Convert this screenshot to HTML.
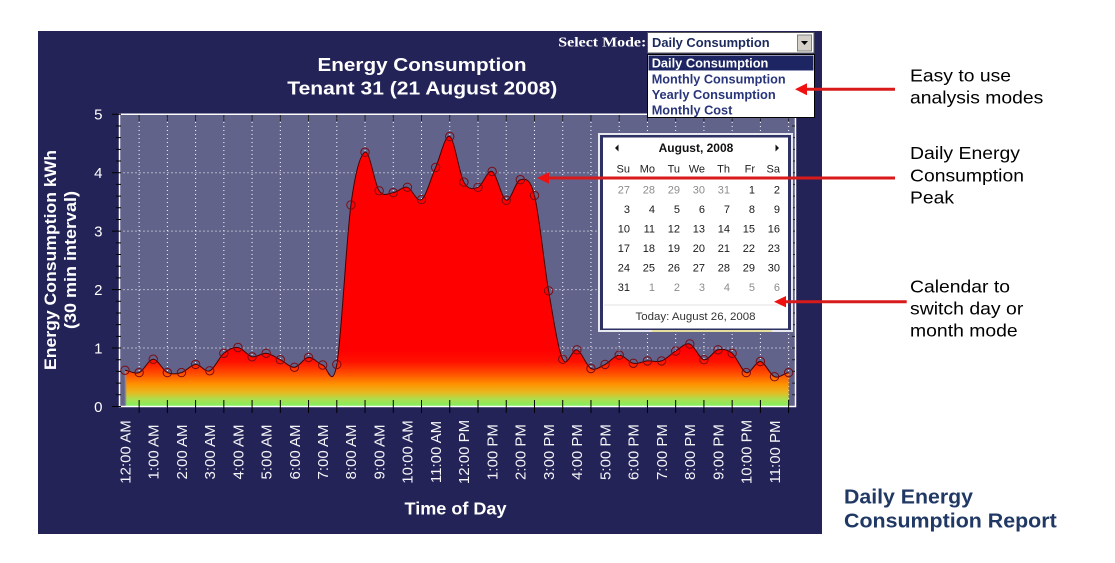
<!DOCTYPE html>
<html><head><meta charset="utf-8"><style>
html,body{margin:0;padding:0;background:#fff;}
svg{display:block;}
</style></head><body>
<svg width="1115" height="563" viewBox="0 0 1115 563" xmlns="http://www.w3.org/2000/svg" font-family="'Liberation Sans', Arial, sans-serif">
<defs>
<linearGradient id="g" gradientUnits="userSpaceOnUse" x1="0" y1="406.5" x2="0" y2="350">
<stop offset="0" stop-color="#80f060"/>
<stop offset="0.12" stop-color="#a8e050"/>
<stop offset="0.25" stop-color="#e8b820"/>
<stop offset="0.4" stop-color="#ff9000"/>
<stop offset="0.6" stop-color="#ff4800"/>
<stop offset="0.8" stop-color="#ff1000"/>
<stop offset="1" stop-color="#ff0000"/>
</linearGradient>
</defs>
<rect width="1115" height="563" fill="#fff"/>
<rect x="38" y="31" width="784" height="503" fill="#232358"/>
<rect x="119.5" y="114.25" width="676" height="292.25" fill="#62638a"/>

<!-- grid -->
<path d="M119.5 348.05H795.5M119.5 289.6H795.5M119.5 231.15H795.5M119.5 172.7H795.5" stroke="#fff" stroke-width="1" stroke-dasharray="1 3" fill="none"/>
<path d="M139.12 114V406M167.36 114V406M195.6 114V406M223.84 114V406M252.08 114V406M280.32 114V406M308.56 114V406M336.8 114V406M365.04 114V406M393.28 114V406M421.52 114V406M449.76 114V406M478 114V406M506.24 114V406M534.48 114V406M562.72 114V406M590.96 114V406M619.2 114V406M647.44 114V406M675.68 114V406M703.92 114V406M732.16 114V406M760.4 114V406M788.64 114V406" stroke="#fff" stroke-width="1" stroke-dasharray="1 3" fill="none"/>

<!-- area fill -->
<path fill="url(#g)" d="M125,406.5 L125,370.3 C129.71,370.68 134.41,374.45 139.12,372.6 C143.83,370.75 148.53,359.2 153.24,359.2 C157.95,359.2 162.65,370.37 167.36,372.6 C172.07,374.83 176.77,373.97 181.48,372.6 C186.19,371.23 190.89,364.7 195.6,364.4 C200.31,364.1 205.01,372.65 209.72,370.8 C214.43,368.95 219.13,357.18 223.84,353.3 C228.55,349.42 233.25,346.92 237.96,347.5 C242.67,348.08 247.37,355.83 252.08,356.8 C256.79,357.77 261.49,352.82 266.2,353.3 C270.91,353.78 275.61,357.37 280.32,359.7 C285.03,362.03 289.73,367.68 294.44,367.3 C299.15,366.92 303.85,357.78 308.56,357.4 C313.27,357.02 317.97,363.83 322.68,365 C327.39,366.17 332.09,391.08 336.8,364.4 C341.51,337.72 346.21,240.27 350.92,204.9 C355.63,169.53 360.33,154.55 365.04,152.2 C369.75,149.85 374.45,184.07 379.16,190.8 C383.87,197.53 388.57,193.18 393.28,192.6 C397.99,192.02 402.69,186.13 407.4,187.3 C412.11,188.47 416.81,202.92 421.52,199.6 C426.23,196.28 430.93,177.92 435.64,167.4 C440.35,156.88 445.05,134.05 449.76,136.5 C454.47,138.95 459.17,173.63 463.88,182.1 C468.59,190.57 473.29,189.07 478,187.3 C482.71,185.53 487.41,169.35 492.12,171.5 C496.83,173.65 501.53,198.83 506.24,200.2 C510.95,201.57 515.65,180.48 520.36,179.7 C525.07,178.92 529.77,176.98 534.48,195.5 C539.19,214.02 543.89,263.52 548.6,290.8 C553.31,318.08 558.01,349.37 562.72,359.2 C567.43,369.03 572.13,348.25 576.84,349.8 C581.55,351.35 586.25,366.07 590.96,368.5 C595.67,370.93 600.37,366.63 605.08,364.4 C609.79,362.17 614.49,355.28 619.2,355.1 C623.91,354.92 628.61,362.33 633.32,363.3 C638.03,364.27 642.73,361.3 647.44,360.9 C652.15,360.5 656.85,362.55 661.56,360.9 C666.27,359.25 670.97,353.82 675.68,351 C680.39,348.18 685.09,342.55 689.8,344 C694.51,345.45 699.21,358.73 703.92,359.7 C708.63,360.67 713.33,350.87 718.04,349.8 C722.75,348.73 727.45,349.5 732.16,353.3 C736.87,357.1 741.57,371.23 746.28,372.6 C750.99,373.97 755.69,360.82 760.4,361.5 C765.11,362.18 769.81,374.85 774.52,376.7 C779.23,378.55 783.93,373.28 788.64,372.6 L788.64,406.5 Z"/>
<line x1="125.5" y1="370" x2="125.5" y2="406" stroke="#8a8a9a" stroke-width="1.5"/>
<!-- curve line -->
<path fill="none" stroke="#4a0000" stroke-width="1" d="M125,370.3 C129.71,370.68 134.41,374.45 139.12,372.6 C143.83,370.75 148.53,359.2 153.24,359.2 C157.95,359.2 162.65,370.37 167.36,372.6 C172.07,374.83 176.77,373.97 181.48,372.6 C186.19,371.23 190.89,364.7 195.6,364.4 C200.31,364.1 205.01,372.65 209.72,370.8 C214.43,368.95 219.13,357.18 223.84,353.3 C228.55,349.42 233.25,346.92 237.96,347.5 C242.67,348.08 247.37,355.83 252.08,356.8 C256.79,357.77 261.49,352.82 266.2,353.3 C270.91,353.78 275.61,357.37 280.32,359.7 C285.03,362.03 289.73,367.68 294.44,367.3 C299.15,366.92 303.85,357.78 308.56,357.4 C313.27,357.02 317.97,363.83 322.68,365 C327.39,366.17 332.09,391.08 336.8,364.4 C341.51,337.72 346.21,240.27 350.92,204.9 C355.63,169.53 360.33,154.55 365.04,152.2 C369.75,149.85 374.45,184.07 379.16,190.8 C383.87,197.53 388.57,193.18 393.28,192.6 C397.99,192.02 402.69,186.13 407.4,187.3 C412.11,188.47 416.81,202.92 421.52,199.6 C426.23,196.28 430.93,177.92 435.64,167.4 C440.35,156.88 445.05,134.05 449.76,136.5 C454.47,138.95 459.17,173.63 463.88,182.1 C468.59,190.57 473.29,189.07 478,187.3 C482.71,185.53 487.41,169.35 492.12,171.5 C496.83,173.65 501.53,198.83 506.24,200.2 C510.95,201.57 515.65,180.48 520.36,179.7 C525.07,178.92 529.77,176.98 534.48,195.5 C539.19,214.02 543.89,263.52 548.6,290.8 C553.31,318.08 558.01,349.37 562.72,359.2 C567.43,369.03 572.13,348.25 576.84,349.8 C581.55,351.35 586.25,366.07 590.96,368.5 C595.67,370.93 600.37,366.63 605.08,364.4 C609.79,362.17 614.49,355.28 619.2,355.1 C623.91,354.92 628.61,362.33 633.32,363.3 C638.03,364.27 642.73,361.3 647.44,360.9 C652.15,360.5 656.85,362.55 661.56,360.9 C666.27,359.25 670.97,353.82 675.68,351 C680.39,348.18 685.09,342.55 689.8,344 C694.51,345.45 699.21,358.73 703.92,359.7 C708.63,360.67 713.33,350.87 718.04,349.8 C722.75,348.73 727.45,349.5 732.16,353.3 C736.87,357.1 741.57,371.23 746.28,372.6 C750.99,373.97 755.69,360.82 760.4,361.5 C765.11,362.18 769.81,374.85 774.52,376.7 C779.23,378.55 783.93,373.28 788.64,372.6"/>
<!-- markers -->
<g fill="none" stroke="#7a0c14" stroke-width="1">
<circle cx="125" cy="370.3" r="4.2"/><circle cx="139.12" cy="372.6" r="4.2"/><circle cx="153.24" cy="359.2" r="4.2"/><circle cx="167.36" cy="372.6" r="4.2"/><circle cx="181.48" cy="372.6" r="4.2"/><circle cx="195.6" cy="364.4" r="4.2"/><circle cx="209.72" cy="370.8" r="4.2"/><circle cx="223.84" cy="353.3" r="4.2"/><circle cx="237.96" cy="347.5" r="4.2"/><circle cx="252.08" cy="356.8" r="4.2"/><circle cx="266.2" cy="353.3" r="4.2"/><circle cx="280.32" cy="359.7" r="4.2"/><circle cx="294.44" cy="367.3" r="4.2"/><circle cx="308.56" cy="357.4" r="4.2"/><circle cx="322.68" cy="365" r="4.2"/><circle cx="336.8" cy="364.4" r="4.2"/><circle cx="350.92" cy="204.9" r="4.2"/><circle cx="365.04" cy="152.2" r="4.2"/><circle cx="379.16" cy="190.8" r="4.2"/><circle cx="393.28" cy="192.6" r="4.2"/><circle cx="407.4" cy="187.3" r="4.2"/><circle cx="421.52" cy="199.6" r="4.2"/><circle cx="435.64" cy="167.4" r="4.2"/><circle cx="449.76" cy="136.5" r="4.2"/><circle cx="463.88" cy="182.1" r="4.2"/><circle cx="478" cy="187.3" r="4.2"/><circle cx="492.12" cy="171.5" r="4.2"/><circle cx="506.24" cy="200.2" r="4.2"/><circle cx="520.36" cy="179.7" r="4.2"/><circle cx="534.48" cy="195.5" r="4.2"/><circle cx="548.6" cy="290.8" r="4.2"/><circle cx="562.72" cy="359.2" r="4.2"/><circle cx="576.84" cy="349.8" r="4.2"/><circle cx="590.96" cy="368.5" r="4.2"/><circle cx="605.08" cy="364.4" r="4.2"/><circle cx="619.2" cy="355.1" r="4.2"/><circle cx="633.32" cy="363.3" r="4.2"/><circle cx="647.44" cy="360.9" r="4.2"/><circle cx="661.56" cy="360.9" r="4.2"/><circle cx="675.68" cy="351" r="4.2"/><circle cx="689.8" cy="344" r="4.2"/><circle cx="703.92" cy="359.7" r="4.2"/><circle cx="718.04" cy="349.8" r="4.2"/><circle cx="732.16" cy="353.3" r="4.2"/><circle cx="746.28" cy="372.6" r="4.2"/><circle cx="760.4" cy="361.5" r="4.2"/><circle cx="774.52" cy="376.7" r="4.2"/><circle cx="788.64" cy="372.6" r="4.2"/>
</g>

<!-- plot border -->
<rect x="119.5" y="114.25" width="676" height="292.25" fill="none" stroke="#fff" stroke-width="1.5"/>

<!-- ticks -->
<path stroke="#000" stroke-width="1" fill="none" d="M139.12 400V413M167.36 400V413M195.6 400V413M223.84 400V413M252.08 400V413M280.32 400V413M308.56 400V413M336.8 400V413M365.04 400V413M393.28 400V413M421.52 400V413M449.76 400V413M478 400V413M506.24 400V413M534.48 400V413M562.72 400V413M590.96 400V413M619.2 400V413M647.44 400V413M675.68 400V413M703.92 400V413M732.16 400V413M760.4 400V413M788.64 400V413"/>
<path stroke="#222" stroke-width="1" fill="none" d="M139.12 115V121M167.36 115V121M195.6 115V121M223.84 115V121M252.08 115V121M280.32 115V121M308.56 115V121M336.8 115V121M365.04 115V121M393.28 115V121M421.52 115V121M449.76 115V121M478 115V121M506.24 115V121M534.48 115V121M562.72 115V121M590.96 115V121M619.2 115V121M647.44 115V121M675.68 115V121M703.92 115V121M732.16 115V121M760.4 115V121M788.64 115V121"/>
<path stroke="#000" stroke-width="1" fill="none" d="M112 406.5H121M116 394.81H121M116 383.12H121M116 371.43H121M116 359.74H121M112 348.05H121M116 336.36H121M116 324.67H121M116 312.98H121M116 301.29H121M112 289.6H121M116 277.91H121M116 266.22H121M116 254.53H121M116 242.84H121M112 231.15H121M116 219.46H121M116 207.77H121M116 196.08H121M116 184.39H121M112 172.7H121M116 161.01H121M116 149.32H121M116 137.63H121M116 125.94H121M112 114.25H121"/>
<path stroke="#222" stroke-width="1" fill="none" d="M792 394.81H795M792 383.12H795M792 371.43H795M792 359.74H795M792 348.05H795M792 336.36H795M792 324.67H795M792 312.98H795M792 301.29H795M792 289.6H795M792 277.91H795M792 266.22H795M792 254.53H795M792 242.84H795M792 231.15H795M792 219.46H795M792 207.77H795M792 196.08H795M792 184.39H795M792 172.7H795M792 161.01H795M792 149.32H795M792 137.63H795M792 125.94H795"/>

<!-- y tick labels -->
<g fill="#fff" font-size="15" text-anchor="end">
<text x="102.5" y="412">0</text>
<text x="102.5" y="353.5">1</text>
<text x="102.5" y="295">2</text>
<text x="102.5" y="236.6">3</text>
<text x="102.5" y="178.2">4</text>
<text x="102.5" y="119.7">5</text>
</g>

<!-- x tick labels -->
<g fill="#f4f4f8" font-size="15" text-anchor="middle">
<text transform="translate(125,452) rotate(-90)" dy="5.3">12:00 AM</text>
<text transform="translate(153.24,452) rotate(-90)" dy="5.3">1:00 AM</text>
<text transform="translate(181.48,452) rotate(-90)" dy="5.3">2:00 AM</text>
<text transform="translate(209.72,452) rotate(-90)" dy="5.3">3:00 AM</text>
<text transform="translate(237.96,452) rotate(-90)" dy="5.3">4:00 AM</text>
<text transform="translate(266.2,452) rotate(-90)" dy="5.3">5:00 AM</text>
<text transform="translate(294.44,452) rotate(-90)" dy="5.3">6:00 AM</text>
<text transform="translate(322.68,452) rotate(-90)" dy="5.3">7:00 AM</text>
<text transform="translate(350.92,452) rotate(-90)" dy="5.3">8:00 AM</text>
<text transform="translate(379.16,452) rotate(-90)" dy="5.3">9:00 AM</text>
<text transform="translate(407.4,452) rotate(-90)" dy="5.3">10:00 AM</text>
<text transform="translate(435.64,452) rotate(-90)" dy="5.3">11:00 AM</text>
<text transform="translate(463.88,452) rotate(-90)" dy="5.3">12:00 PM</text>
<text transform="translate(492.12,452) rotate(-90)" dy="5.3">1:00 PM</text>
<text transform="translate(520.36,452) rotate(-90)" dy="5.3">2:00 PM</text>
<text transform="translate(548.6,452) rotate(-90)" dy="5.3">3:00 PM</text>
<text transform="translate(576.84,452) rotate(-90)" dy="5.3">4:00 PM</text>
<text transform="translate(605.08,452) rotate(-90)" dy="5.3">5:00 PM</text>
<text transform="translate(633.32,452) rotate(-90)" dy="5.3">6:00 PM</text>
<text transform="translate(661.56,452) rotate(-90)" dy="5.3">7:00 PM</text>
<text transform="translate(689.8,452) rotate(-90)" dy="5.3">8:00 PM</text>
<text transform="translate(718.04,452) rotate(-90)" dy="5.3">9:00 PM</text>
<text transform="translate(746.28,452) rotate(-90)" dy="5.3">10:00 PM</text>
<text transform="translate(774.52,452) rotate(-90)" dy="5.3">11:00 PM</text>
</g>

<!-- axis titles -->
<g fill="#fff" font-weight="bold" text-anchor="middle">
<text transform="translate(56,260) rotate(-90)" font-size="17" textLength="220" lengthAdjust="spacingAndGlyphs">Energy Consumption kWh</text>
<text transform="translate(76,260) rotate(-90)" font-size="17" textLength="138" lengthAdjust="spacingAndGlyphs">(30 min interval)</text>
<text x="455.5" y="514.3" font-size="17.5" textLength="102" lengthAdjust="spacingAndGlyphs">Time of Day</text>
<text x="422" y="71" font-size="18" textLength="209" lengthAdjust="spacingAndGlyphs">Energy Consumption</text>
<text x="422.3" y="94.5" font-size="18" textLength="270" lengthAdjust="spacingAndGlyphs">Tenant 31 (21 August 2008)</text>
</g>

<!-- calendar -->
<rect x="598" y="133" width="195" height="199" fill="#e8e8f0"/>
<rect x="600" y="135" width="191" height="195" fill="#2d3263"/>
<rect x="603" y="137.5" width="185" height="191" fill="#fff"/>
<rect x="652" y="330" width="120" height="2" fill="#e6df9c"/>
<polygon points="615,148 618.5,144.5 618.5,151.5" fill="#111"/>
<polygon points="779,148 775.5,144.5 775.5,151.5" fill="#111"/>
<text x="696" y="152" font-size="12" font-weight="bold" text-anchor="middle" fill="#111">August, 2008</text>
<g font-size="11" text-anchor="end" fill="#222">
<text x="630" y="172.7">Su</text><text x="655" y="172.7">Mo</text><text x="680" y="172.7">Tu</text><text x="705" y="172.7">We</text><text x="730" y="172.7">Th</text><text x="755" y="172.7">Fr</text><text x="780" y="172.7">Sa</text>
</g>
<g font-size="11" text-anchor="end" fill="#8c8c8c">
<text x="630" y="193.3">27</text><text x="655" y="193.3">28</text><text x="680" y="193.3">29</text><text x="705" y="193.3">30</text><text x="730" y="193.3">31</text>
<text x="655" y="290.8">1</text><text x="680" y="290.8">2</text><text x="705" y="290.8">3</text><text x="730" y="290.8">4</text><text x="755" y="290.8">5</text><text x="780" y="290.8">6</text>
</g>
<g font-size="11" text-anchor="end" fill="#1a1a1a">
<text x="755" y="193.3">1</text><text x="780" y="193.3">2</text>
<text x="630" y="212.8">3</text><text x="655" y="212.8">4</text><text x="680" y="212.8">5</text><text x="705" y="212.8">6</text><text x="730" y="212.8">7</text><text x="755" y="212.8">8</text><text x="780" y="212.8">9</text>
<text x="630" y="232.3">10</text><text x="655" y="232.3">11</text><text x="680" y="232.3">12</text><text x="705" y="232.3">13</text><text x="730" y="232.3">14</text><text x="755" y="232.3">15</text><text x="780" y="232.3">16</text>
<text x="630" y="251.8">17</text><text x="655" y="251.8">18</text><text x="680" y="251.8">19</text><text x="705" y="251.8">20</text><text x="730" y="251.8">21</text><text x="755" y="251.8">22</text><text x="780" y="251.8">23</text>
<text x="630" y="271.3">24</text><text x="655" y="271.3">25</text><text x="680" y="271.3">26</text><text x="705" y="271.3">27</text><text x="730" y="271.3">28</text><text x="755" y="271.3">29</text><text x="780" y="271.3">30</text>
<text x="630" y="290.8">31</text>
</g>
<line x1="604" y1="305" x2="787" y2="305" stroke="#e2e2e2" stroke-width="1"/>
<text x="695.5" y="320" font-size="11" text-anchor="middle" fill="#333" textLength="120" lengthAdjust="spacingAndGlyphs">Today: August 26, 2008</text>

<!-- select mode -->
<text x="558.3" y="46.5" font-family="'Liberation Serif', 'Times New Roman', serif" font-weight="bold" font-size="14" fill="#fff" textLength="88" lengthAdjust="spacingAndGlyphs">Select Mode:</text>
<rect x="647.5" y="32.5" width="166.5" height="20.5" fill="#fff" stroke="#555" stroke-width="1"/>
<text x="652" y="47" font-size="13" font-weight="bold" fill="#1c2a5c" textLength="117.6" lengthAdjust="spacingAndGlyphs">Daily Consumption</text>
<rect x="797.5" y="35" width="14" height="16" fill="#d4d0c8" stroke="#808080" stroke-width="1"/>
<polygon points="801,41 808,41 804.5,45" fill="#000"/>
<rect x="647.5" y="54.5" width="167" height="63" fill="#fff" stroke="#000" stroke-width="1"/>
<rect x="648.5" y="55.5" width="165" height="15" fill="#1d2563" stroke="#9aa0c8" stroke-width="0.8" stroke-dasharray="1 1"/>
<g font-size="13" font-weight="bold">
<text x="651.7" y="67.7" fill="#fff" textLength="116.7" lengthAdjust="spacingAndGlyphs">Daily Consumption</text>
<text x="651.7" y="83.3" fill="#29357a" textLength="134" lengthAdjust="spacingAndGlyphs">Monthly Consumption</text>
<text x="651.7" y="99" fill="#29357a" textLength="124" lengthAdjust="spacingAndGlyphs">Yearly Consumption</text>
<text x="651.7" y="114.3" fill="#29357a" textLength="80.7" lengthAdjust="spacingAndGlyphs">Monthly Cost</text>
</g>

<!-- annotations -->
<g font-size="17.5" fill="#000">
<text x="910" y="81.7" textLength="101" lengthAdjust="spacingAndGlyphs">Easy to use</text>
<text x="910" y="103.3" textLength="133.3" lengthAdjust="spacingAndGlyphs">analysis modes</text>
<text x="910" y="159" textLength="110" lengthAdjust="spacingAndGlyphs">Daily Energy</text>
<text x="910" y="181.7" textLength="114" lengthAdjust="spacingAndGlyphs">Consumption</text>
<text x="910" y="203.3" textLength="44" lengthAdjust="spacingAndGlyphs">Peak</text>
<text x="910" y="292.3" textLength="100" lengthAdjust="spacingAndGlyphs">Calendar to</text>
<text x="910" y="314.3" textLength="113.3" lengthAdjust="spacingAndGlyphs">switch day or</text>
<text x="910" y="336.7" textLength="107.7" lengthAdjust="spacingAndGlyphs">month mode</text>
</g>
<g font-size="20" font-weight="bold" fill="#1f3864">
<text x="844" y="503.3" textLength="129" lengthAdjust="spacingAndGlyphs">Daily Energy</text>
<text x="844" y="527.3" textLength="212.7" lengthAdjust="spacingAndGlyphs">Consumption Report</text>
</g>

<!-- arrows -->
<g stroke="#d81a1a" stroke-width="3">
<line x1="805" y1="89.3" x2="895" y2="89.3"/>
<line x1="547" y1="178" x2="895" y2="178"/>
<line x1="785" y1="301.7" x2="906.7" y2="301.7"/>
</g>
<g fill="#f01010">
<polygon points="795,89.3 807,83.3 807,95.3"/>
<polygon points="537,178 549,172.3 549,183.7"/>
<polygon points="774,301.7 786,296 786,307.4"/>
</g>
</svg>
</body></html>
